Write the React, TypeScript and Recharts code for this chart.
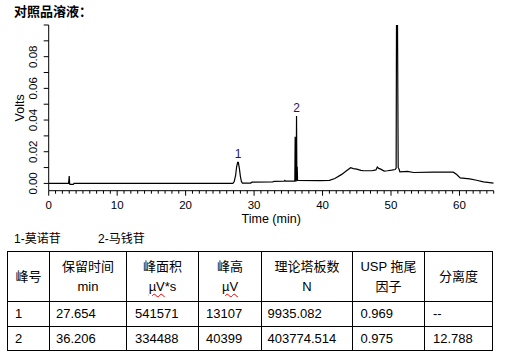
import React from 'react';
import { ComposedChart, Line, XAxis, YAxis, ReferenceDot } from 'recharts';

const TITLE = '对照品溶液：';
const X_LABEL = 'Time (min)';
const Y_LABEL = 'Volts';

// chromatogram trace (time in min, signal in volts)
const timeMin = [
  0, 2.9, 3.0, 3.05, 3.1, 3.6, 3.7, 26.9, 27.1, 27.3, 27.45, 27.6, 27.7, 27.85, 28.0, 28.15, 28.3,
  29.5, 29.7, 32.7, 32.9, 34.4, 34.5, 34.6, 35.95, 36.0, 36.05, 36.15, 36.2, 36.25, 36.3, 36.35,
  39.6, 41.0, 41.8, 42.8, 43.5, 44.1, 44.5, 45.0, 45.6, 46.0, 47.2, 47.8, 48.0, 48.2, 48.5, 49.0,
  49.5, 50.1, 50.6, 50.75, 50.8, 50.95, 51.05, 51.2, 51.3, 52.4, 53.3, 56.2, 59.1, 59.6, 60.1,
  61.5, 62.5, 63.5, 65,
];
const volts = [
  0, 0, 0.0046, 0.0003, -0.0006, -0.0006, 0, 0, 0.0012, 0.005, 0.0105, 0.0133, 0.0133, 0.0095, 0.0045, 0.0012, 0.0002,
  0.0002, 0.0008, 0.0009, 0.0013, 0.0014, 0.0019, 0.0014, 0.0015, 0.0294, 0.0016, 0.0016, 0.0425, 0.0019, 0.0105, 0.0019,
  0.0018, 0.0019, 0.0031, 0.0057, 0.008, 0.0099, 0.0093, 0.009, 0.0082, 0.008, 0.008, 0.0085, 0.0103, 0.0095, 0.009, 0.0078,
  0.008, 0.0084, 0.0088, 0.0095, 0.1, 0.1, 0.0101, 0.0088, 0.0073, 0.0076, 0.0069, 0.0071, 0.0071, 0.0056, 0.0035,
  0.0029, 0.002, 0.001, 0.0002,
];

const peakIds = ['1', '2'];
const peakTimes = [27.654, 36.206];
const peakVolts = [0.0133, 0.0425];

const xTicks = Array.from({ length: 66 }, (_, i) => i);
const xMajor = [0, 10, 20, 30, 40, 50, 60];
const yTicks = [0, 0.01, 0.02, 0.03, 0.04, 0.05, 0.06, 0.07, 0.08, 0.09, 0.1];
const yLabelled = [0, 0.02, 0.04, 0.06, 0.08];

const legendItems = ['1-莫诺苷', '2-马钱苷'];
const headers = [['峰号'], ['保留时间', 'min'], ['峰面积', 'µV*s'], ['峰高', 'µV'], ['理论塔板数', 'N'], ['USP 拖尾', '因子'], ['分离度']];
const peakNo = ['1', '2'];
const retention = ['27.654', '36.206'];
const area = ['541571', '334488'];
const height = ['13107', '40399'];
const plates = ['9935.082', '403774.514'];
const tailing = ['0.969', '0.975'];
const resolution = ['--', '12.788'];

const FONT = '"Liberation Sans", Arial, "Noto Sans CJK SC", sans-serif';

const trace = timeMin.map((t, i) => ({ t, v: volts[i] }));

const XTick = (props: any) => {
  const { x, y, payload } = props;
  const major = xMajor.includes(payload.value);
  return (
    <g>
      <line x1={x} x2={x} y1={y} y2={y + (major ? 5 : 3)} stroke="#000" strokeWidth={1} />
      {major && (
        <text x={x} y={y + 18} textAnchor="middle" fontSize={11.5} fill="#000" fontFamily={FONT}>
          {payload.value}
        </text>
      )}
    </g>
  );
};

const YTick = (props: any) => {
  const { x, y, payload } = props;
  if (!yLabelled.includes(payload.value)) return <g />;
  const cx = x - 8.4;
  return (
    <text
      x={cx}
      y={y}
      transform={`rotate(-90 ${cx} ${y})`}
      textAnchor="middle"
      dominantBaseline="central"
      fontSize={11.5}
      fill="#000"
      fontFamily={FONT}
    >
      {payload.value.toFixed(2)}
    </text>
  );
};

const YLabel = (props: any) => {
  const vb = props.viewBox || { x: 8.7, y: 25, width: 40, height: 165.7 };
  const cx = vb.x + 11.3;
  const cy = vb.y + vb.height / 2;
  return (
    <text
      x={cx}
      y={cy}
      transform={`rotate(-90 ${cx} ${cy})`}
      textAnchor="middle"
      dominantBaseline="central"
      fontSize={12.5}
      fill="#000"
      fontFamily={FONT}
    >
      {Y_LABEL}
    </text>
  );
};

const colX = [7, 49, 126, 198, 261, 352, 424, 492];
const rowY = [251, 301, 326, 350];
const cellPad = [7, 6, 8, 7, 5.5, 7.5, 8];

const renderLine = (s: string) => {
  if (s.startsWith('µV')) {
    return (
      <span>
        <span style={{ textDecoration: 'underline wavy #e00', textDecorationThickness: '1px', textUnderlineOffset: '2px' }}>µV</span>
        {s.slice(2)}
      </span>
    );
  }
  return <span>{s}</span>;
};

export default function App() {
  const rows = peakNo.map((_, i) => [peakNo[i], retention[i], area[i], height[i], plates[i], tailing[i], resolution[i]]);
  const cells: React.ReactNode[] = [];
  headers.forEach((h, c) => {
    cells.push(
      <div
        key={`h${c}`}
        style={{
          position: 'absolute',
          left: colX[c],
          top: rowY[0],
          width: colX[c + 1] - colX[c],
          height: rowY[1] - rowY[0],
          borderLeft: '1px solid #000',
          borderTop: '1px solid #000',
          boxSizing: 'border-box',
          display: 'flex',
          flexDirection: 'column',
          justifyContent: 'center',
          alignItems: 'center',
          fontSize: 13,
          lineHeight: '20px',
        }}
      >
        {h.map((ln, k) => (
          <div key={k}>{renderLine(ln)}</div>
        ))}
      </div>
    );
  });
  rows.forEach((r, ri) => {
    r.forEach((val, c) => {
      cells.push(
        <div
          key={`r${ri}c${c}`}
          style={{
            position: 'absolute',
            left: colX[c],
            top: rowY[ri + 1],
            width: colX[c + 1] - colX[c],
            height: rowY[ri + 2] - rowY[ri + 1],
            borderLeft: '1px solid #000',
            borderTop: '1px solid #000',
            boxSizing: 'border-box',
            display: 'flex',
            alignItems: 'center',
            paddingLeft: cellPad[c],
            paddingBottom: 1,
            fontSize: 13,
          }}
        >
          {val}
        </div>
      );
    });
  });

  return (
    <div
      style={{
        position: 'absolute',
        left: 0,
        top: 0,
        width: 508,
        height: 359,
        background: '#fff',
        fontFamily: FONT,
        color: '#000',
        overflow: 'hidden',
      }}
    >
      <div style={{ position: 'absolute', left: 14, top: 4, fontSize: 13, fontWeight: 'bold', lineHeight: '16px' }}>{TITLE}</div>
      <div style={{ position: 'absolute', left: 0, top: 0 }}>
        <ComposedChart width={508} height={230} data={trace} margin={{ top: 25, right: 14.3, left: 8.7, bottom: 5.3 }}>
          <XAxis
            dataKey="t"
            type="number"
            domain={[0, 65]}
            allowDataOverflow
            ticks={xTicks}
            interval={0}
            tickSize={0}
            tickMargin={0}
            tickLine={false}
            tick={<XTick />}
            axisLine={{ stroke: '#000' }}
            height={34}
            label={{ value: X_LABEL, position: 'insideBottom', offset: 1.5, fontSize: 12.5, fill: '#000', fontFamily: FONT }}
          />
          <YAxis
            type="number"
            domain={[-0.0046, 0.1]}
            allowDataOverflow
            ticks={yTicks}
            interval={0}
            tickSize={5}
            tickMargin={2}
            tickLine={{ stroke: '#000' }}
            tick={<YTick />}
            axisLine={{ stroke: '#000' }}
            width={40}
            label={{ content: (p: any) => <YLabel {...p} /> }}
          />
          <Line dataKey="v" type="linear" dot={false} stroke="#000" strokeWidth={1.2} isAnimationActive={false} />
          {peakIds.map((id, i) => (
            <ReferenceDot
              key={id}
              x={peakTimes[i]}
              y={peakVolts[i]}
              r={0}
              fill="none"
              stroke="none"
              label={{ value: id, position: 'top', offset: 4, fontSize: 12, fill: '#1a1a60', fontFamily: FONT }}
            />
          ))}
        </ComposedChart>
      </div>
      {legendItems.map((s, i) => (
        <div key={s} style={{ position: 'absolute', left: i === 0 ? 14 : 98, top: 231, fontSize: 12, lineHeight: '16px' }}>
          {s}
        </div>
      ))}
      {cells}
      <div
        style={{
          position: 'absolute',
          left: colX[0],
          top: rowY[0],
          width: colX[colX.length - 1] - colX[0] + 1,
          height: rowY[rowY.length - 1] - rowY[0] + 1,
          borderRight: '1px solid #000',
          borderBottom: '1px solid #000',
          boxSizing: 'border-box',
          pointerEvents: 'none',
        }}
      />
    </div>
  );
}
